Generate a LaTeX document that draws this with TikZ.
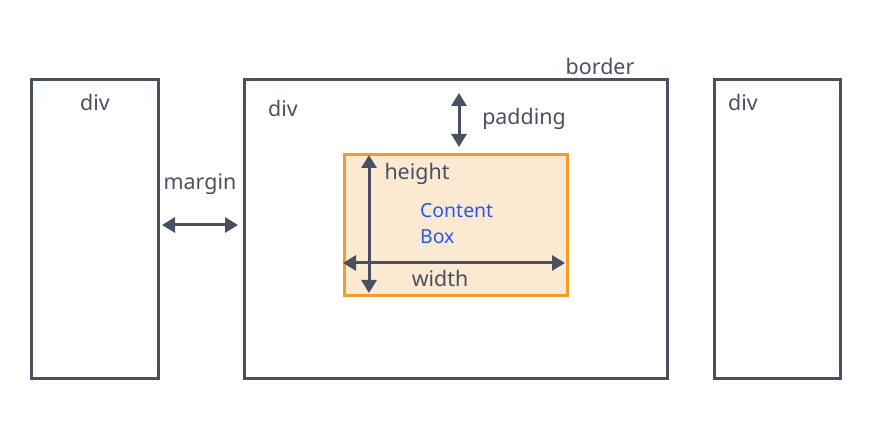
\documentclass[tikz,border=0pt]{standalone}
\usepackage{fontspec}
\setmainfont{Noto Sans}
\usetikzlibrary{arrows.meta}
\definecolor{linecol}{HTML}{4B4F62}
\definecolor{boxcol}{HTML}{F39C26}
\definecolor{boxfill}{HTML}{FCE9D2}
\definecolor{textblue}{HTML}{2B55F0}
\tikzset{
  divbox/.style={draw=linecol, line width=3bp, inner sep=0pt, anchor=south west},
  contentbox/.style={draw=boxcol, fill=boxfill, line width=3bp, inner sep=0pt, anchor=south west},
  lbl/.style={text=linecol, font=\fontsize{21.5}{24}\selectfont, inner sep=0pt},
  dim/.style={draw=linecol, line width=3bp, {Triangle[width=15bp,length=13bp]}-{Triangle[width=15bp,length=13bp]}},
}
\begin{document}
\begin{tikzpicture}[x=1bp,y=1bp]
  \useasboundingbox (0,0) rectangle (870,442);
  % Node: left_div
  \node[divbox, minimum width=127bp, minimum height=299bp] (leftdiv) at (30,62) {};
  \node[lbl] (leftlbl) at (95,340) {div};
  % Node: main_div
  \node[divbox, minimum width=423bp, minimum height=299bp] (maindiv) at (243,62) {};
  \node[lbl] (mainlbl) at (283,334) {div};
  \node[lbl] (borderlbl) at (600,376) {border};
  % Node: right_div
  \node[divbox, minimum width=126bp, minimum height=299bp] (rightdiv) at (713,62) {};
  \node[lbl] (rightlbl) at (743,340) {div};
  % Node: content_box
  \node[contentbox, minimum width=223bp, minimum height=141bp] (content) at (343,145) {};
  \node[text=textblue, font=\fontsize{19.5}{26}\selectfont, align=left, anchor=west, inner sep=0pt] (contentlbl) at (420,218) {Content\\Box};
  % Edge: margin
  \coordinate (marginL) at (162,217);
  \coordinate (marginR) at (238,217);
  \draw[dim] (marginL) -- (marginR);
  \node[lbl] (marginlbl) at (200,258) {margin};
  % Edge: padding
  \coordinate (padT) at (459,349);
  \coordinate (padB) at (459,295);
  \draw[dim] (padT) -- (padB);
  \node[lbl] (paddinglbl) at (524,323) {padding};
  % Edge: height
  \coordinate (hT) at (369,287);
  \coordinate (hB) at (369,149);
  \draw[dim] (hT) -- (hB);
  \node[lbl] (heightlbl) at (417,268) {height};
  % Edge: width
  \coordinate (wL) at (343,179);
  \coordinate (wR) at (565,179);
  \draw[dim] (wL) -- (wR);
  \node[lbl] (widthlbl) at (440,164) {width};
\end{tikzpicture}
\end{document}
